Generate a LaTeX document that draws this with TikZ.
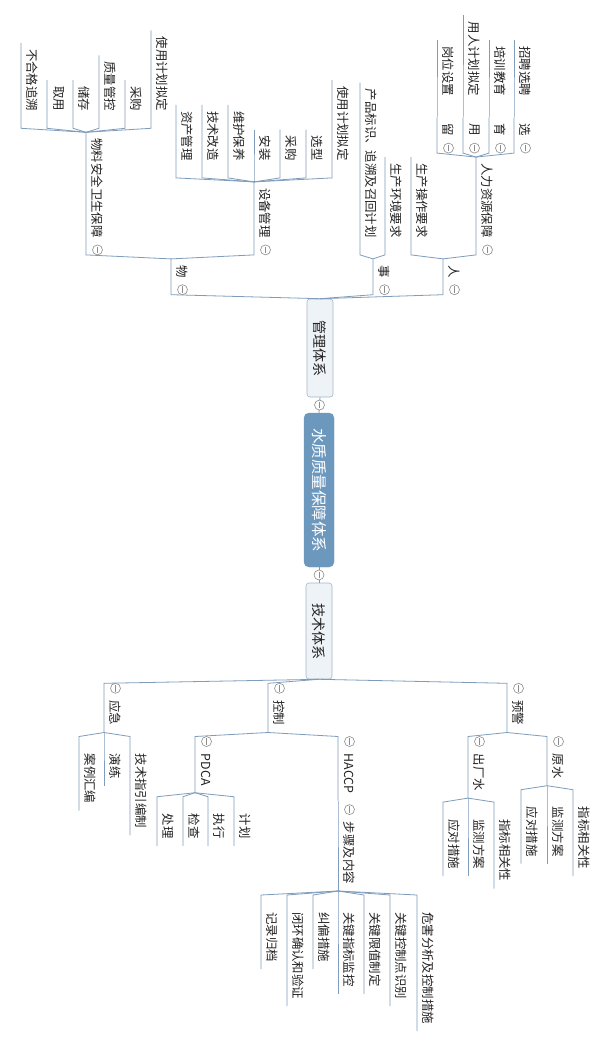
\documentclass[tikz,border=0pt]{standalone}
\usepackage{fontspec}
\setmainfont{Noto Sans CJK SC}
\usetikzlibrary{calc}
\definecolor{lnc}{HTML}{7F9CBB}
\definecolor{clc}{HTML}{8C8C8C}
\definecolor{rootc}{HTML}{6C98BE}
\definecolor{boxc}{HTML}{EEF3F8}
\definecolor{boxd}{HTML}{A3B6CA}
\definecolor{txt}{HTML}{222222}
\tikzset{
  ln/.style={draw=lnc, line width=0.8pt},
  lbl/.style={rotate=-90, inner sep=0pt, text=txt, font=\fontsize{12.4pt}{14pt}\selectfont},
  clps/.style={draw=clc, fill=white, line width=0.6pt},
  clmk/.style={draw=clc, line width=0.6pt},
  rootbox/.style={rotate=-90, fill=rootc, draw=rootc, rounded corners=5pt, minimum width=154pt, minimum height=30pt, inner sep=0pt, text=white, font=\fontsize{15.5pt}{17pt}\selectfont},
  subbox/.style={rotate=-90, fill=boxc, draw=boxd, line width=0.6pt, rounded corners=3pt, minimum height=26pt, inner sep=0pt, text=txt, font=\fontsize{14pt}{16pt}\selectfont},
}
% upper-half branch: #1 name, #2 parent point, #3 x, #4 text
\newcommand\upn[4]{%
  \coordinate (#1X) at (#3,0);
  \path (#2) ++(0,-4) coordinate (#1A);
  \coordinate (#1N) at (#1X |- #1A);
  \node[lbl,anchor=east] (#1) at ([shift={(11.5,-17)}]#1N) {#4};
  \path (#1.west) ++(0,-6) coordinate (#1B);
  \coordinate (#1F) at (#1X |- #1B);
  \draw[ln] (#2) -- (#1N) -- (#1F);
}
% lower-half branch
\newcommand\dnn[4]{%
  \coordinate (#1X) at (#3,0);
  \path (#2) ++(0,4) coordinate (#1A);
  \coordinate (#1N) at (#1X |- #1A);
  \node[lbl,anchor=west] (#1) at ([shift={(11.5,17)}]#1N) {#4};
  \path (#1.east) ++(0,7) coordinate (#1B);
  \coordinate (#1F) at (#1X |- #1B);
  \draw[ln] (#2) -- (#1N) -- (#1F);
}
\newcommand\mkc[1]{%
  \draw[clps] (#1) circle[radius=5pt];
  \draw[clmk] ([shift={(0,-3.3)}]#1) -- ([shift={(0,3.3)}]#1);
}
\newcommand\upc[1]{\path ([shift={(11.5,-5)}]#1N) coordinate (#1C); \mkc{#1C}}
\newcommand\dnc[1]{\path ([shift={(11.5,5)}]#1N) coordinate (#1C); \mkc{#1C}}
\begin{document}
\begin{tikzpicture}[x=1pt,y=-1pt]
\path[use as bounding box, fill=white] (0,0) rectangle (614,1043);
% central nodes
\node[rootbox] (root) at (319,490) {水质质量保障体系};
\node[subbox, minimum width=98pt] (gl) at (320,348) {管理体系};
\node[subbox, minimum width=96pt] (js) at (319,631) {技术体系};
\draw[ln] (root.west) -- (gl.east);
\draw[ln] (root.east) -- (js.west);
\coordinate (rc1) at ($(root.west)!0.5!(gl.east)$);
\coordinate (rc2) at ($(root.east)!0.5!(js.west)$);
\mkc{rc1}
\mkc{rc2}
\coordinate (glT) at (gl.west);
\coordinate (jsB) at (js.east);
% ---------- 管理体系 ----------
\upn{wu}{glT}{171}{物} \upc{wu}
\upn{shi}{glT}{373}{事} \upc{shi}
\upn{ren}{glT}{443}{人} \upc{ren}
\upn{wl}{wuF}{86}{物料安全卫生保障} \upc{wl}
\upn{sb}{wuF}{254}{设备管理} \upc{sb}
\upn{wla}{wlF}{21}{不合格追溯}
\upn{wlb}{wlF}{47}{取用}
\upn{wlc}{wlF}{73}{储存}
\upn{wld}{wlF}{99}{质量管控}
\upn{wle}{wlF}{125}{采购}
\upn{wlf}{wlF}{151}{使用计划拟定}
\upn{sba}{sbF}{176}{资产管理}
\upn{sbb}{sbF}{202}{技术改造}
\upn{sbc}{sbF}{228}{维护保养}
\upn{sbd}{sbF}{254}{安装}
\upn{sbe}{sbF}{280}{采购}
\upn{sbf}{sbF}{306}{选型}
\upn{sbg}{sbF}{332}{使用计划拟定}
\upn{sha}{shiF}{360}{产品标识、追溯及召回计划}
\upn{shb}{shiF}{385}{生产环境要求}
\upn{rna}{renF}{411}{生产操作要求}
\upn{rl}{renF}{476}{人力资源保障} \upc{rl}
\upn{liu}{rlF}{437}{留} \upc{liu}
\upn{yong}{rlF}{463}{用} \upc{yong}
\upn{yu}{rlF}{489}{育} \upc{yu}
\upn{xuan}{rlF}{514}{选} \upc{xuan}
\upn{gw}{liuF}{437}{岗位设置}
\upn{yr}{yongF}{463}{用人计划拟定}
\upn{px}{yuF}{489}{培训教育}
\upn{zp}{xuanF}{514}{招聘选聘}
% ---------- 技术体系 ----------
\dnn{yj}{jsB}{104}{应急} \dnc{yj}
\dnn{kz}{jsB}{268}{控制} \dnc{kz}
\dnn{yjg}{jsB}{507}{预警} \dnc{yjg}
\dnn{yja}{yjF}{79}{案例汇编}
\dnn{yjb}{yjF}{104}{演练}
\dnn{yjc}{yjF}{130}{技术指引编制}
\dnn{pd}{kzF}{195}{PDCA} \dnc{pd}
\dnn{ha}{kzF}{338}{HACCP} \dnc{ha}
\dnn{pda}{pdF}{157}{处理}
\dnn{pdb}{pdF}{183}{检查}
\dnn{pdc}{pdF}{208}{执行}
\dnn{pdd}{pdF}{234}{计划}
\dnn{bz}{haF}{338}{步骤及内容} \dnc{bz}
\dnn{bza}{bzF}{261}{记录归档}
\dnn{bzb}{bzF}{287}{闭环确认和验证}
\dnn{bzc}{bzF}{313}{纠偏措施}
\dnn{bzd}{bzF}{338}{关键指标监控}
\dnn{bze}{bzF}{364}{关键限值制定}
\dnn{bzf}{bzF}{390}{关键控制点识别}
\dnn{bzg}{bzF}{417}{危害分析及控制措施}
\dnn{cc}{yjgF}{468}{出厂水} \dnc{cc}
\dnn{ys}{yjgF}{547}{原水} \dnc{ys}
\dnn{cca}{ccF}{443}{应对措施}
\dnn{ccb}{ccF}{468}{监测方案}
\dnn{ccc}{ccF}{494}{指标相关性}
\dnn{ysa}{ysF}{521}{应对措施}
\dnn{ysb}{ysF}{547}{监测方案}
\dnn{ysc}{ysF}{573}{指标相关性}
\end{tikzpicture}
\end{document}
